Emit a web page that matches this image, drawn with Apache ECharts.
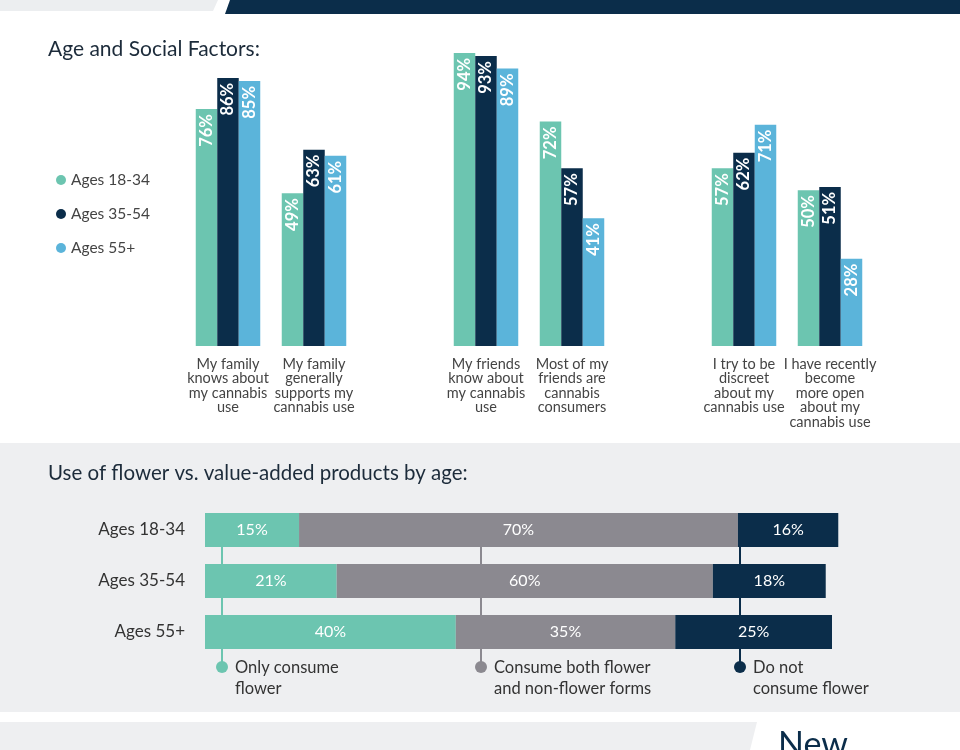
<!DOCTYPE html>
<html><head><meta charset="utf-8">
<script src="https://cdn.jsdelivr.net/npm/echarts@6/dist/echarts.min.js"></script>
<style>html,body{margin:0;padding:0;background:#fff}#c{width:960px;height:750px}</style>
</head><body><div id="c"></div>
<script>
// ---- data ----
const topCategories = ["My family\nknows about\nmy cannabis\nuse","My family\ngenerally\nsupports my\ncannabis use"," ","My friends\nknow about\nmy cannabis\nuse","Most of my\nfriends are\ncannabis\nconsumers","  ","I try to be\ndiscreet\nabout my\ncannabis use","I have recently\nbecome\nmore open\nabout my\ncannabis use"];
const ageGroups = ["Ages 18-34","Ages 35-54","Ages 55+"];
const ages1834 = [76,49,'-',94,72,'-',57,50];
const ages3554 = [86,63,'-',93,57,'-',62,51];
const ages55 = [85,61,'-',89,41,'-',71,28];
const usageCategories = ["Ages 18-34","Ages 35-54","Ages 55+"];
const onlyFlower = [15,21,40];
const bothForms = [70,60,35];
const noFlower = [16,18,25];
const usageNames = ["Only consume\nflower","Consume both flower\nand non-flower forms","Do not\nconsume flower"];

const TEAL='#6cc5b0', NAVY='#0b2d4a', LBLUE='#5bb4da', GRAY='#8b8990';
const FONT='Lato';
const chart = echarts.init(document.getElementById('c'));

const topLabel = {show:true, position:'insideTop', rotate:90, align:'right', verticalAlign:'middle', distance:5,
  color:'#fff', fontSize:16.5, fontWeight:'bold', fontFamily:FONT, formatter:'{c}%'};
const botLabel = {show:true, position:'inside', color:'#fff', fontSize:16, fontFamily:FONT, formatter:'{c}%'};

const legendX=[222,481,740], legendColors=[TEAL,GRAY,NAVY];
const graphics = [
  {type:'rect', shape:{x:0,y:443,width:960,height:269}, style:{fill:'#eeeff1'}, z:-10},
  {type:'polygon', shape:{points:[[0,0],[218,0],[213,11],[0,11]]}, style:{fill:'#eceef0'}, z:-10},
  {type:'polygon', shape:{points:[[230,0],[960,0],[960,14],[225,14]]}, style:{fill:NAVY}, z:-10},
  {type:'polygon', shape:{points:[[0,722],[757,722],[750,750],[0,750]]}, style:{fill:'#eeeff1'}, z:-10},
  {type:'text', x:778, y:728, style:{text:'New', fill:NAVY, fontSize:34, fontFamily:FONT}, z:5}
];
legendX.forEach((x,i)=>{
  graphics.push({type:'line', shape:{x1:x,y1:540,x2:x,y2:667}, style:{stroke:legendColors[i], lineWidth:2}, z:0});
  graphics.push({type:'circle', shape:{cx:x,cy:667,r:6}, style:{fill:legendColors[i]}, z:5});
  graphics.push({type:'text', x:x+13, y:657, style:{text:usageNames[i], fill:'#333', fontSize:16.5, lineHeight:21, fontFamily:FONT}, z:5});
});

chart.setOption({
  animation:false,
  textStyle:{fontFamily:FONT},
  title:[
    {text:'Age and Social Factors:', left:43, top:34, textStyle:{fontSize:21, fontWeight:'normal', color:'#1c2b3a', fontFamily:FONT}},
    {text:'Use of flower vs. value-added products by age:', left:43, top:458, textStyle:{fontSize:20.5, fontWeight:'normal', color:'#1c2b3a', fontFamily:FONT}}
  ],
  legend:{data:ageGroups, orient:'vertical', left:51, top:167, icon:'circle', itemWidth:10, itemHeight:10, itemGap:18,
    textStyle:{fontSize:15.5, color:'#444', fontFamily:FONT}},
  grid:[
    {left:185, width:688, top:34.3, height:311.7},
    {left:205, width:689.7, top:504.5, height:153}
  ],
  xAxis:[
    {type:'category', gridIndex:0, data:topCategories, axisLine:{show:false}, axisTick:{show:false},
      axisLabel:{interval:0, margin:11, fontSize:14.5, lineHeight:14.5, color:'#444', verticalAlign:'top', fontFamily:FONT}},
    {type:'value', gridIndex:1, min:0, max:110, show:false}
  ],
  yAxis:[
    {type:'value', gridIndex:0, min:0, max:100, show:false},
    {type:'category', gridIndex:1, data:usageCategories, inverse:true, axisLine:{show:false}, axisTick:{show:false},
      axisLabel:{margin:20, fontSize:17, color:'#333', fontFamily:FONT}}
  ],
  series:[
    {name:ageGroups[0], type:'bar', xAxisIndex:0, yAxisIndex:0, data:ages1834, barWidth:21.5, barGap:'0%', itemStyle:{color:TEAL}, label:topLabel},
    {name:ageGroups[1], type:'bar', xAxisIndex:0, yAxisIndex:0, data:ages3554, barWidth:21.5, barGap:'0%', itemStyle:{color:NAVY}, label:topLabel},
    {name:ageGroups[2], type:'bar', xAxisIndex:0, yAxisIndex:0, data:ages55, barWidth:21.5, barGap:'0%', itemStyle:{color:LBLUE}, label:topLabel},
    {name:'Only consume flower', type:'bar', stack:'u', xAxisIndex:1, yAxisIndex:1, data:onlyFlower, barWidth:34, itemStyle:{color:TEAL}, label:botLabel, z:3},
    {name:'Consume both', type:'bar', stack:'u', xAxisIndex:1, yAxisIndex:1, data:bothForms, barWidth:34, itemStyle:{color:GRAY}, label:botLabel, z:3},
    {name:'Do not consume', type:'bar', stack:'u', xAxisIndex:1, yAxisIndex:1, data:noFlower, barWidth:34, itemStyle:{color:NAVY}, label:botLabel, z:3}
  ],
  graphic:{elements:graphics}
});
</script></body></html>
